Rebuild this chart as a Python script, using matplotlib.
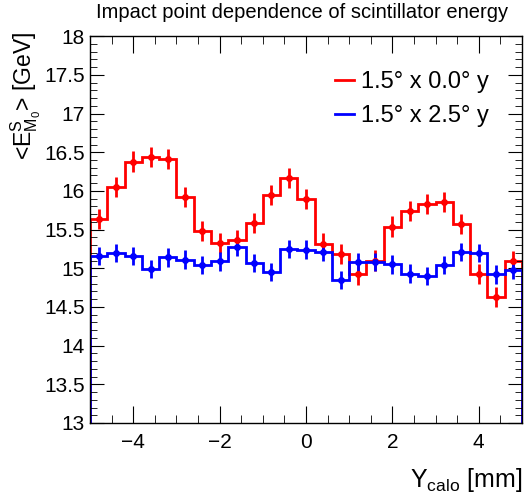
import numpy as np
import matplotlib.pyplot as plt
from matplotlib.lines import Line2D
from matplotlib.ticker import MultipleLocator, FormatStrFormatter

plt.rcParams['font.family'] = ['Liberation Sans', 'DejaVu Sans']
plt.rcParams['mathtext.fontset'] = 'custom'
plt.rcParams['mathtext.rm'] = 'Liberation Sans'
plt.rcParams['mathtext.it'] = 'Liberation Sans'
plt.rcParams['mathtext.default'] = 'regular'

# 25 bins of 0.4 mm between -5 and 5
edges = np.linspace(-5, 5, 26)
centers = 0.5 * (edges[:-1] + edges[1:])

e_flat = [15.64, 16.05, 16.38, 16.44, 16.41, 15.92, 15.48, 15.33, 15.36, 15.59,
          15.95, 16.17, 15.89, 15.32, 15.18, 14.92, 15.10, 15.54, 15.74, 15.83,
          15.86, 15.57, 14.93, 14.63, 15.09]
err_flat = [0.13] * 25

e_tilt = [15.16, 15.20, 15.16, 14.99, 15.14, 15.11, 15.04, 15.09, 15.28, 15.07,
          14.95, 15.25, 15.24, 15.21, 14.85, 15.08, 15.08, 15.05, 14.93, 14.90,
          15.04, 15.21, 15.20, 14.92, 14.98]
err_tilt = [0.12] * 25

labels = ["1.5° x 0.0° y", "1.5° x 2.5° y"]
colors = ["#ff0000", "#0000ff"]

fig = plt.figure(figsize=(5.24, 5.01), dpi=100)
ax = fig.add_axes([0.172, 0.1557, 0.824, 0.772])

for vals, errs, c in [(e_flat, err_flat, colors[0]), (e_tilt, err_tilt, colors[1])]:
    ax.stairs(vals, edges, color=c, linewidth=2)
    ax.errorbar(centers, vals, yerr=errs, fmt='o', color=c, ms=4,
                elinewidth=2, capsize=0)

ax.set_xlim(-5, 5)
ax.set_ylim(13, 18)

ax.xaxis.set_major_locator(MultipleLocator(2))
ax.xaxis.set_minor_locator(MultipleLocator(0.5))
ax.yaxis.set_major_locator(MultipleLocator(0.5))
ax.yaxis.set_minor_locator(MultipleLocator(0.1))
ax.yaxis.set_major_formatter(FormatStrFormatter('%g'))

ax.tick_params(which='both', direction='in', top=True, right=True, labelsize=15)
ax.tick_params(axis='x', which='major', length=12, pad=7)
ax.tick_params(axis='x', which='minor', length=6)
ax.tick_params(axis='y', which='major', length=10, pad=4)
ax.tick_params(axis='y', which='minor', length=5)
for s in ax.spines.values():
    s.set_linewidth(1)

ax.set_xlabel("Y$_{calo}$ [mm]", fontsize=18, ha='right')
ax.xaxis.set_label_coords(1.0, -0.11)
ax.set_ylabel("<E$^{S}_{M_{0}}$> [GeV]", fontsize=16.5, ha='right')
ax.yaxis.set_label_coords(-0.108, 1.012)

fig.text(0.576, 0.975, "Impact point dependence of scintillator energy",
         fontsize=14.5, ha='center', va='center')

handles = [Line2D([], [], color=c, linewidth=2) for c in colors]
ax.legend(handles, labels, loc='upper left', bbox_to_anchor=(0.518, 0.965),
          frameon=False, fontsize=17, handlelength=0.8, handletextpad=0.3,
          labelspacing=0.5)

fig.savefig("out.png", dpi=100)
